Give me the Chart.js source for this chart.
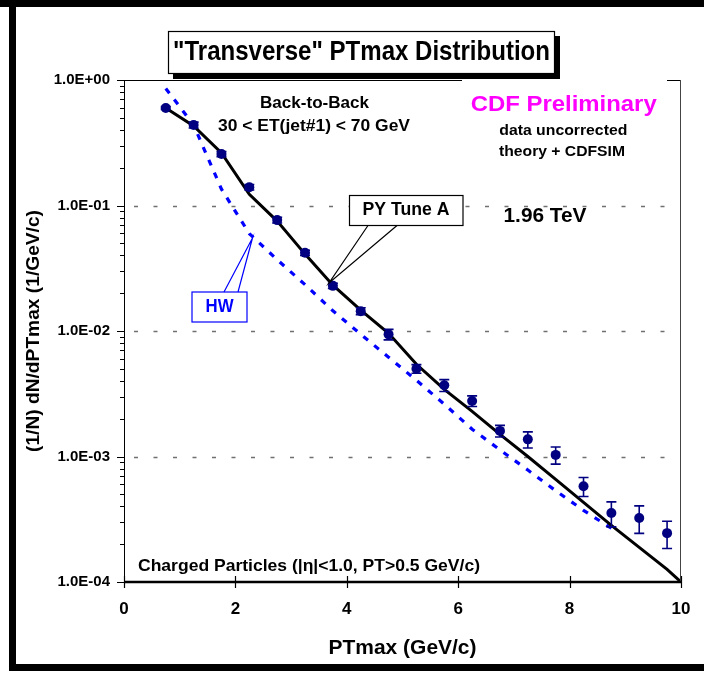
<!DOCTYPE html>
<html>
<head>
<meta charset="utf-8">
<script src="https://cdn.jsdelivr.net/npm/chart.js@4.4.0/dist/chart.umd.min.js"></script>
<style>
  body { margin: 0; background: #fff; }
  canvas { display: block; }
</style>
</head>
<body>
<canvas id="graf_ptmax" width="704" height="674"></canvas>
<script>
// Datos
var ptBins = [0.75, 1.25, 1.75, 2.25, 2.75, 3.25, 3.75, 4.25, 4.75, 5.25,
              5.75, 6.25, 6.75, 7.25, 7.75, 8.25, 8.75, 9.25, 9.75];
var dataVals = [0.598, 0.438, 0.257, 0.140, 0.0765, 0.0420, 0.0229, 0.0144, 0.0094, 0.0050,
                0.0037, 0.00277, 0.00160, 0.00137, 0.00103, 0.00058, 0.000355, 0.000324, 0.000245];
var dataErr = [0.015, 0.024, 0.012, 0.007, 0.004, 0.002, 0.0011, 0.0009, 0.0009, 0.0004,
               0.0004, 0.00027, 0.00017, 0.0002, 0.00016, 0.0001, 0.00008, 0.00008, 0.00006];

var pyX = [0.75, 1.25, 1.75, 2.25, 2.75, 3.25, 3.75, 4.25, 4.75, 5.25,
           5.75, 6.25, 6.75, 7.25, 7.75, 8.25, 8.75, 9.25, 9.75, 10];
var pyVals = [0.598, 0.430, 0.262, 0.123, 0.0751, 0.0410, 0.0232, 0.01465, 0.0096, 0.00543,
              0.00343, 0.00229, 0.00150, 0.00100, 0.000658, 0.000431, 0.000283, 0.000189, 0.000126, 0.0001];

var hwX = [0.75, 1.25, 1.75, 2.25, 2.75, 3.25, 3.75, 4.25, 4.75, 5.25,
           5.75, 6.25, 6.75, 7.25, 7.75, 8.25, 8.75];
var hwVals = [0.857, 0.438, 0.135, 0.0597, 0.0370, 0.0234, 0.0145, 0.00942, 0.00618, 0.00405,
              0.00261, 0.00165, 0.00113, 0.00078, 0.000534, 0.000372, 0.000268];

var xTicks = [0, 2, 4, 6, 8, 10];
var yDecades = [1e-4, 1e-3, 1e-2, 1e-1, 1];
var yTickLabels = ['1.0E-04', '1.0E-03', '1.0E-02', '1.0E-01', '1.0E+00'];

var NAVY = '#000080';
var FONT = '"Liberation Sans", Arial, sans-serif';

function pts(xs, ys) {
  return xs.map(function (v, i) { return { x: v, y: ys[i] }; });
}

// texto ajustado a un ancho
function texto(ctx, str, x, y, size, width, color, rot) {
  ctx.save();
  ctx.font = 'bold ' + size + 'px ' + FONT;
  var w = ctx.measureText(str).width;
  ctx.translate(x, y);
  if (rot) ctx.rotate(rot);
  ctx.scale(width / w, 1);
  ctx.textAlign = 'center';
  ctx.textBaseline = 'middle';
  ctx.fillStyle = color;
  ctx.fillText(str, 0, 0);
  ctx.restore();
}

function caja(ctx, x1, y1, x2, y2, color, tip, b1, b2) {
  ctx.save();
  ctx.fillStyle = '#fff';
  ctx.fillRect(x1, y1, x2 - x1, y2 - y1);
  ctx.strokeStyle = color;
  ctx.lineWidth = 1.2;
  ctx.strokeRect(x1, y1, x2 - x1, y2 - y1);
  ctx.beginPath();
  ctx.moveTo(b1[0], b1[1]); ctx.lineTo(tip[0], tip[1]); ctx.lineTo(b2[0], b2[1]);
  ctx.stroke();
  ctx.restore();
}

var fondo = {
  id: 'fondo',
  beforeDraw: function (chart) {
    var ctx = chart.ctx;
    ctx.save();
    ctx.fillStyle = '#fff';
    ctx.fillRect(0, 0, chart.width, chart.height);
    ctx.restore();
  },
  beforeDatasetsDraw: function (chart) {
    var ctx = chart.ctx, a = chart.chartArea, y = chart.scales.y;
    ctx.save();
    ctx.strokeStyle = '#707070';
    ctx.lineWidth = 1.5;
    ctx.setLineDash([4, 15.5]);
    [1e-3, 1e-2, 1e-1].forEach(function (d) {
      var py = Math.round(y.getPixelForValue(d)) + 0.5;
      ctx.beginPath();
      ctx.moveTo(a.left + 10, py);
      ctx.lineTo(a.right, py);
      ctx.stroke();
    });
    ctx.restore();
  }
};

var barrasError = {
  id: 'barrasError',
  afterDatasetsDraw: function (chart) {
    var ctx = chart.ctx, x = chart.scales.x, y = chart.scales.y;
    ctx.save();
    ctx.strokeStyle = NAVY;
    ctx.lineWidth = 1.6;
    ptBins.forEach(function (b, i) {
      var px = x.getPixelForValue(b);
      var yt = y.getPixelForValue(dataVals[i] + dataErr[i]);
      var yb = y.getPixelForValue(dataVals[i] - dataErr[i]);
      ctx.beginPath();
      ctx.moveTo(px, yt); ctx.lineTo(px, yb);
      ctx.moveTo(px - 5, yt); ctx.lineTo(px + 5, yt);
      ctx.moveTo(px - 5, yb); ctx.lineTo(px + 5, yb);
      ctx.stroke();
    });
    ctx.restore();
  }
};

var decor = {
  id: 'decor',
  afterDraw: function (chart) {
    var ctx = chart.ctx, a = chart.chartArea, x = chart.scales.x, y = chart.scales.y;
    ctx.save();
    // ejes
    ctx.strokeStyle = '#000';
    ctx.lineWidth = 1;
    ctx.beginPath();
    ctx.moveTo(a.left + 0.5, a.top); ctx.lineTo(a.left + 0.5, a.bottom);
    ctx.moveTo(a.left, a.top + 0.5); ctx.lineTo(462, a.top + 0.5);
    ctx.moveTo(667, a.top + 0.5); ctx.lineTo(a.right, a.top + 0.5);
    ctx.stroke();
    ctx.strokeStyle = '#444';
    ctx.beginPath();
    ctx.moveTo(a.right - 0.5, a.top); ctx.lineTo(a.right - 0.5, a.bottom);
    ctx.stroke();
    // marcas del eje y
    ctx.strokeStyle = '#000';
    ctx.beginPath();
    yDecades.forEach(function (d, i) {
      var py = Math.round(y.getPixelForValue(d)) + 0.5;
      ctx.moveTo(a.left - 7, py); ctx.lineTo(a.left, py);
      if (i < yDecades.length - 1) {
        for (var k = 2; k <= 9; k++) {
          var pm = Math.round(y.getPixelForValue(d * k)) + 0.5;
          ctx.moveTo(a.left - 4, pm); ctx.lineTo(a.left, pm);
        }
      }
    });
    ctx.stroke();
    // eje x
    ctx.lineWidth = 2.5;
    ctx.beginPath();
    ctx.moveTo(a.left, a.bottom); ctx.lineTo(a.right, a.bottom);
    ctx.stroke();
    ctx.lineWidth = 1.2;
    ctx.beginPath();
    xTicks.forEach(function (t) {
      var px = Math.round(x.getPixelForValue(t)) + 0.5;
      ctx.moveTo(px, a.bottom - 6); ctx.lineTo(px, a.bottom + 6);
    });
    ctx.stroke();

    // marco exterior
    ctx.fillStyle = '#000';
    ctx.fillRect(0, 0, 704, 7);
    ctx.fillRect(9, 0, 7, 671);
    ctx.fillRect(9, 664, 695, 7);

    // titulo
    ctx.fillRect(173, 36, 387, 43);
    ctx.fillStyle = '#fff';
    ctx.fillRect(168, 31, 387, 43);
    ctx.strokeStyle = '#000';
    ctx.lineWidth = 1.2;
    ctx.strokeRect(168.5, 31.5, 386, 42);
    texto(ctx, '"Transverse" PTmax Distribution', 361.5, 53, 27, 377, '#000');

    // anotaciones
    texto(ctx, 'Back-to-Back', 314.5, 104, 16, 109, '#000');
    texto(ctx, '30 < ET(jet#1) < 70 GeV', 314, 127, 16, 192, '#000');
    texto(ctx, 'CDF Preliminary', 563.7, 105, 22, 186, '#ff00ff');
    texto(ctx, 'data uncorrected', 563.3, 131.5, 14, 128, '#000');
    texto(ctx, 'theory + CDFSIM', 562, 152.5, 14, 126, '#000');
    texto(ctx, '1.96 TeV', 545, 216, 20, 83, '#000');

    caja(ctx, 349.5, 195.5, 463, 225.5, '#000', [329, 283], [368, 225.5], [397, 225.5]);
    texto(ctx, 'PY Tune A', 406, 210.5, 18, 87, '#000');
    caja(ctx, 192, 292, 247, 322, '#0000ff', [252.5, 238], [224, 292], [238, 292]);
    texto(ctx, 'HW', 219.5, 307.5, 18, 28, '#0000ff');

    texto(ctx, 'Charged Particles (|\u03b7|<1.0, PT>0.5 GeV/c)', 309, 566.5, 17, 342, '#000');

    // titulos de ejes
    texto(ctx, 'PTmax (GeV/c)', 402.5, 648, 21, 148, '#000');
    texto(ctx, '(1/N) dN/dPTmax (1/GeV/c)', 34, 331, 19, 242, '#000', -Math.PI / 2);
    ctx.restore();
  }
};

var ctx = document.getElementById('graf_ptmax').getContext('2d');

var graf_ptmax = new Chart(ctx, {
  type: 'line',
  data: {
    datasets: [
      {
        label: 'data',
        data: pts(ptBins, dataVals),
        showLine: false,
        pointRadius: 5,
        pointBackgroundColor: NAVY,
        pointBorderColor: NAVY,
        borderWidth: 0,
        order: 0
      },
      {
        label: 'PY Tune A',
        data: pts(pyX, pyVals),
        borderColor: '#000',
        borderWidth: 3,
        pointRadius: 0,
        fill: false,
        tension: 0,
        order: 1
      },
      {
        label: 'HW',
        data: pts(hwX, hwVals),
        borderColor: '#0000ff',
        borderWidth: 3.2,
        borderDash: [6, 8],
        pointRadius: 0,
        fill: false,
        tension: 0,
        order: 2
      }
    ]
  },
  options: {
    responsive: false,
    animation: false,
    events: [],
    layout: { padding: { top: 80, right: 23, left: 0, bottom: 0 } },
    plugins: { legend: { display: false }, tooltip: { enabled: false } },
    scales: {
      x: {
        type: 'linear',
        min: 0,
        max: 10,
        afterFit: function (s) { s.height = 92; s.paddingLeft = 0; s.paddingRight = 0; },
        grid: { display: false, drawTicks: false },
        border: { display: false },
        ticks: {
          stepSize: 2,
          padding: 17,
          color: '#000',
          font: { family: FONT, size: 17, weight: 'bold' },
          callback: function (v) { return xTicks.indexOf(v) >= 0 ? String(v) : ''; }
        }
      },
      y: {
        type: 'logarithmic',
        min: 1e-4,
        max: 1,
        afterFit: function (s) { s.width = 124; s.paddingTop = 0; s.paddingBottom = 0; },
        grid: { display: false, drawTicks: false },
        border: { display: false },
        ticks: {
          autoSkip: false,
          padding: 14,
          color: '#000',
          font: { family: FONT, size: 15, weight: 'bold' },
          callback: function (v) {
            for (var i = 0; i < yDecades.length; i++) {
              if (Math.abs(v - yDecades[i]) < yDecades[i] * 1e-6) return yTickLabels[i];
            }
            return '';
          }
        }
      }
    }
  },
  plugins: [fondo, barrasError, decor]
});
</script>
</body>
</html>
